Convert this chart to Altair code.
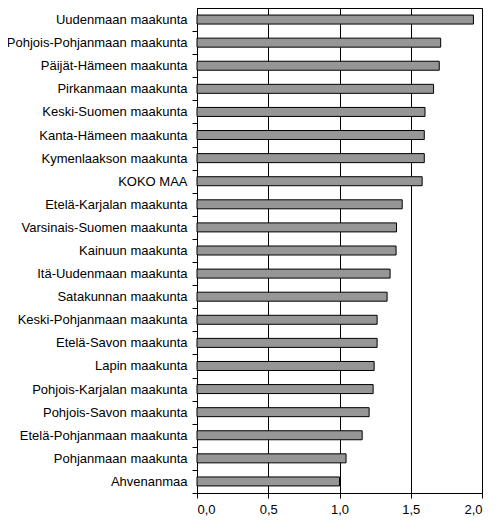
import altair as alt
import pandas as pd

regions = [
    "Uudenmaan maakunta",
    "Pohjois-Pohjanmaan maakunta",
    "Päijät-Hämeen maakunta",
    "Pirkanmaan maakunta",
    "Keski-Suomen maakunta",
    "Kanta-Hämeen maakunta",
    "Kymenlaakson maakunta",
    "KOKO MAA",
    "Etelä-Karjalan maakunta",
    "Varsinais-Suomen maakunta",
    "Kainuun maakunta",
    "Itä-Uudenmaan maakunta",
    "Satakunnan maakunta",
    "Keski-Pohjanmaan maakunta",
    "Etelä-Savon maakunta",
    "Lapin maakunta",
    "Pohjois-Karjalan maakunta",
    "Pohjois-Savon maakunta",
    "Etelä-Pohjanmaan maakunta",
    "Pohjanmaan maakunta",
    "Ahvenanmaa",
]
values = [1.94, 1.71, 1.70, 1.66, 1.60, 1.595, 1.595, 1.58, 1.44, 1.40, 1.397,
          1.355, 1.334, 1.264, 1.264, 1.243, 1.236, 1.208, 1.159, 1.046, 1.0]
x_ticks = [0, 0.5, 1.0, 1.5, 2.0]

df = pd.DataFrame({"region": regions, "value": values})

H = 485
band = H / len(regions)

chart = alt.Chart(df).mark_bar(
    size=9, color="#969696", stroke="black", strokeWidth=1
).encode(
    x=alt.X("value:Q", scale=alt.Scale(domain=[0, 2], nice=False),
            axis=alt.Axis(values=x_ticks, format=".1f", labelExpr="replace(datum.label, '.', ',')",
                          title=None, grid=True, gridColor="black", gridOpacity=1,
                          tickSize=5, labelPadding=5, domainColor="black", tickColor="black")),
    y=alt.Y("region:N", sort=None, scale=alt.Scale(paddingInner=0, paddingOuter=0),
            axis=alt.Axis(title=None, grid=False, tickSize=5, labelPadding=5, labelLimit=0,
                          tickOffset=band / 2, labelOffset=-band / 2,
                          domainColor="black", tickColor="black")),
).properties(
    width=285, height=H,
    autosize=alt.AutoSizeParams(type="none"),
    padding={"left": 189, "top": 0, "right": 8, "bottom": 28},
).configure_view(
    stroke="black", strokeWidth=1
).configure_axis(
    labelFont="Liberation Sans", labelFontSize=13, labelColor="black",
    domainWidth=1, tickWidth=1, gridWidth=1,
)

chart.save("out.html", embed_options={"renderer": "svg", "actions": False})
